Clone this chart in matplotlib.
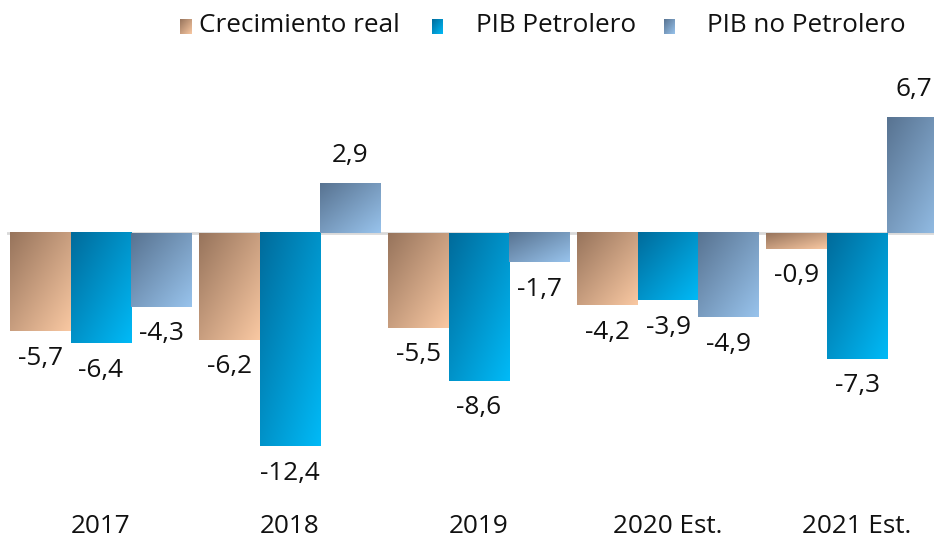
import numpy as np
import matplotlib
matplotlib.use("Agg")
import matplotlib.pyplot as plt
from matplotlib.colors import to_rgb

plt.rcParams['font.family'] = ['Open Sans', 'DejaVu Sans']

years = ["2017", "2018", "2019", "2020 Est.", "2021 Est."]
series_names = ["Crecimiento real", "PIB Petrolero", "PIB no Petrolero"]
crecimiento_real = [-5.7, -6.2, -5.5, -4.2, -0.9]
pib_petrolero = [-6.4, -12.4, -8.6, -3.9, -7.3]
pib_no_petrolero = [-4.3, 2.9, -1.7, -4.9, 6.7]

# (dark corner, light corner) for each series' diagonal gradient
gradients = [("#97745c", "#f9c8a2"),
             ("#006b9b", "#00baf7"),
             ("#587391", "#98c3ec")]

FS = 18.8
TXT = "#111111"


def gradient_image(dark, light, n=64):
    d = np.array(to_rgb(dark))
    l = np.array(to_rgb(light))
    u = np.linspace(0, 1, n)
    t = (u[None, :] + u[:, None]) / 2.0
    return d[None, None, :] + t[:, :, None] * (l - d)[None, None, :]


fig = plt.figure(figsize=(9.34, 5.37), dpi=100)
W, H = 934, 537
ax_left, ax_right = 7, 934
ax_top, ax_bottom = 60, 490
ax = fig.add_axes([ax_left / W, 1 - ax_bottom / H,
                   (ax_right - ax_left) / W, (ax_bottom - ax_top) / H])

x = np.arange(len(years))
width = 0.32
offsets = [-width, 0, width]
all_series = [crecimiento_real, pib_petrolero, pib_no_petrolero]

value_labels = []
for k, (vals, off) in enumerate(zip(all_series, offsets)):
    bars = ax.bar(x + off, vals, width=width, color="none", edgecolor="none")
    img = gradient_image(*gradients[k])
    for rect, v in zip(bars, vals):
        x0 = rect.get_x()
        x1 = x0 + rect.get_width()
        y0, y1 = sorted([0, v])
        ax.imshow(img, extent=[x0, x1, y0, y1], origin="upper",
                  aspect="auto", interpolation="bilinear", zorder=2)
        label = f"{v:.1f}".replace(".", ",")
        dy = 28 if v >= 0 else -27
        t = ax.annotate(label, (rect.get_x() + rect.get_width() / 2, v),
                        xytext=(0, dy), textcoords="offset pixels",
                        ha="center", va="center", fontsize=FS, color=TXT)
        value_labels.append((t, dy))

ax.axhline(0, color="#d9d9d9", lw=2, zorder=1)

ax.set_xlim(-0.497, 4.407)
ax.set_ylim(-14.94, 10.06)
ax.set_xticks(x)
ax.set_xticklabels(years, fontsize=FS, color=TXT)
ax.tick_params(axis="x", length=0, pad=17)
ax.set_yticks([])
for s in ax.spines.values():
    s.set_visible(False)

# Keep value labels inside the figure's right edge
renderer = fig.canvas.get_renderer()
for t, dy in value_labels:
    bb = t.get_window_extent(renderer)
    overflow = bb.x1 - (W - 2)
    if overflow > 0:
        t.set_position((-overflow, dy))

# Legend: gradient swatches with labels across the top
legend_items = [(180, 199), (432, 476), (664, 707)]
for k, ((sx, tx), name) in enumerate(zip(legend_items, series_names)):
    sw = fig.add_axes([sx / W, 1 - 34 / H, 11 / W, 15 / H])
    sw.imshow(gradient_image(*gradients[k]), aspect="auto",
              interpolation="bilinear")
    sw.set_axis_off()
    fig.text(tx / W, 1 - 26 / H, name, ha="left", va="center",
             fontsize=FS, color=TXT)

fig.savefig("out.png", dpi=100)
